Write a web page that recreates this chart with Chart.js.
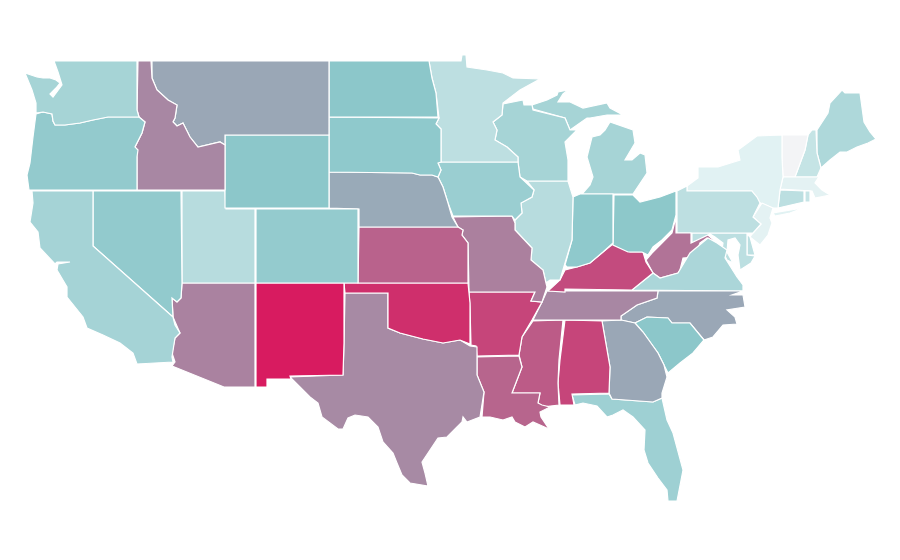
<!DOCTYPE html>
<html>
<head>
<meta charset="utf-8">
<script src="https://cdn.jsdelivr.net/npm/chart.js@4/dist/chart.umd.min.js"></script>
<style>
  html, body { margin: 0; padding: 0; background: #fff; }
  canvas { display: block; }
</style>
</head>
<body>
<canvas id="mapChart" width="900" height="560"></canvas>
<script>
// state outlines, in map units
const washington = [[54,61],[137,61],[137,110],[139,117],[108,117],[93,120],[80,123],[65,125],[55,125],[53,121],[52,114],[43,112],[36,113],[36,103],[32,90],[25,73],[37,77],[43,78],[50,78],[56,80],[60,83],[56,88],[50,94],[53,97],[62,85],[58,72]];
const oregon = [[36,114],[43,112],[52,114],[53,121],[55,125],[65,125],[80,123],[93,120],[108,117],[139,117],[145,122],[142,133],[135,147],[138,150],[137,157],[137,190],[29,190],[27,175],[30,163],[33,137]];
const california = [[32,191],[93,191],[93,246],[173,317],[175,325],[180,333],[175,338],[172,357],[173,362],[137,364],[133,353],[120,343],[103,335],[87,328],[83,317],[67,297],[67,287],[57,270],[58,264],[70,262],[57,262],[55,264],[40,248],[38,232],[30,222],[33,203]];
const nevada = [[93,191],[181,191],[182,283],[181,298],[177,302],[172,298],[173,317],[93,246]];
const idaho = [[138,61],[151,61],[152,78],[157,90],[168,100],[177,105],[175,118],[173,122],[177,126],[183,123],[190,137],[198,147],[220,142],[225,145],[225,190],[137,190],[137,157],[135,147],[142,133],[145,122],[139,117],[137,110]];
const montana = [[152,61],[329,61],[329,135],[225,135],[225,145],[220,142],[198,147],[190,137],[183,123],[177,126],[173,122],[175,118],[177,105],[168,100],[157,90],[152,78]];
const wyoming = [[225,135],[329,135],[329,208],[225,208]];
const utah = [[182,191],[225,191],[226,209],[255,209],[255,283],[182,283]];
const colorado = [[256,209],[358,209],[358,283],[256,283]];
const arizona = [[182,283],[255,283],[255,387],[224,387],[172,366],[175,362],[172,353],[175,338],[180,333],[173,317],[172,298],[177,302],[181,298]];
const newMexico = [[256,283],[344,283],[344,343],[343,375],[290,376],[291,379],[267,379],[267,387],[256,387]];
const northDakota = [[329,61],[429,61],[432,78],[436,93],[438,117],[329,117]];
const southDakota = [[329,117],[439,118],[436,124],[441,129],[441,162],[438,163],[441,170],[438,177],[432,175],[420,175],[412,173],[329,172]];
const nebraska = [[329,172],[412,173],[420,175],[432,175],[438,177],[443,187],[448,203],[452,217],[458,227],[359,227],[359,209],[329,208]];
const kansas = [[359,227],[458,227],[463,230],[462,235],[468,243],[468,283],[358,283]];
const oklahoma = [[344,283],[468,283],[470,303],[470,344],[460,340],[443,343],[423,339],[400,333],[388,328],[388,293],[345,293]];
const texas = [[345,293],[388,293],[388,328],[400,333],[423,339],[443,343],[460,340],[470,346],[477,347],[477,375],[484,392],[480,417],[467,422],[463,417],[462,422],[447,437],[438,438],[430,450],[422,462],[425,473],[428,486],[410,483],[402,475],[397,463],[393,453],[383,442],[378,427],[368,417],[355,415],[348,418],[343,429],[338,429],[322,417],[318,403],[310,397],[300,387],[290,377],[343,375],[344,343]];
const minnesota = [[429,61],[461,61],[462,55],[466,55],[467,67],[487,70],[503,73],[513,78],[540,79],[520,90],[503,103],[502,115],[493,122],[497,130],[495,140],[507,147],[518,157],[518,162],[441,162],[441,129],[436,124],[439,118],[436,93],[432,78]];
const iowa = [[441,162],[518,162],[520,177],[534,190],[532,197],[521,203],[522,213],[515,220],[512,216],[453,216],[448,203],[443,187],[438,177],[441,170],[438,163]];
const missouri = [[453,217],[512,216],[515,223],[515,230],[532,248],[531,260],[543,270],[546,283],[547,287],[542,302],[531,301],[535,292],[469,292],[468,243],[462,235],[463,230],[458,227]];
const arkansas = [[469,292],[535,292],[531,301],[542,302],[532,320],[522,337],[519,355],[477,356],[476,346],[471,345],[470,307]];
const louisiana = [[477,357],[519,356],[522,367],[512,393],[540,393],[538,403],[542,405],[550,407],[540,412],[541,417],[549,429],[533,422],[525,427],[515,422],[512,417],[503,420],[490,417],[482,417],[484,392],[477,375]];
const wisconsin = [[503,104],[523,100],[524,105],[532,105],[533,110],[565,118],[570,130],[577,130],[565,142],[568,160],[568,181],[527,181],[520,177],[518,162],[518,157],[507,147],[495,140],[497,130],[493,122],[502,115]];
const illinois = [[527,181],[568,181],[573,197],[572,240],[565,263],[560,280],[550,280],[546,283],[543,270],[531,260],[532,248],[515,230],[515,220],[522,213],[521,203],[532,197],[534,190]];
const indiana = [[573,197],[580,194],[613,194],[613,243],[603,252],[590,263],[577,267],[567,267],[565,265],[572,240]];
const ohio = [[614,195],[633,195],[640,202],[660,197],[676,191],[676,215],[672,230],[662,240],[653,247],[648,255],[642,252],[628,252],[613,245]];
const michiganLower = [[582,194],[590,185],[593,177],[587,157],[592,137],[600,135],[605,130],[610,122],[633,130],[635,143],[625,160],[632,160],[640,153],[645,155],[647,173],[633,194]];
const michiganUpper = [[533,109],[532,105],[547,100],[557,95],[558,92],[568,90],[563,94],[558,102],[570,102],[583,108],[607,103],[610,108],[623,115],[607,115],[590,118],[587,118],[570,130],[565,118]];
const kentucky = [[548,291],[560,280],[565,270],[577,267],[590,263],[603,252],[613,244],[630,252],[643,252],[646,262],[653,273],[632,290],[565,289],[565,292]];
const tennessee = [[547,291],[565,291],[658,291],[657,298],[637,305],[621,316],[621,320],[533,320],[542,302]];
const mississippi = [[533,321],[563,320],[559,360],[558,383],[559,405],[542,407],[538,403],[540,393],[512,393],[522,367],[519,355],[522,337]];
const alabama = [[565,320],[602,321],[610,367],[609,393],[572,394],[574,405],[560,405],[558,383],[560,360]];
const georgia = [[602,321],[621,320],[635,323],[643,332],[658,353],[664,365],[667,377],[662,393],[662,398],[653,402],[612,399],[609,393],[610,367]];
const southCarolina = [[635,323],[647,317],[668,318],[672,323],[690,323],[704,340],[693,353],[680,363],[668,373],[664,365],[658,353],[643,332]];
const northCarolina = [[658,291],[743,291],[732,295],[743,295],[745,307],[727,310],[735,317],[737,324],[723,325],[713,337],[704,340],[690,323],[672,323],[668,318],[647,317],[635,323],[621,320],[621,316],[637,305],[657,298]];
const florida = [[572,395],[609,394],[612,399],[653,402],[662,398],[667,420],[673,433],[683,470],[677,501],[668,501],[667,490],[658,478],[648,463],[644,450],[645,430],[633,417],[623,410],[613,415],[607,417],[597,406],[583,403],[575,405]];
const virginia = [[632,290],[653,273],[660,278],[678,273],[690,253],[708,238],[717,243],[727,250],[725,258],[737,277],[743,285],[743,291]];
const westVirginia = [[676,217],[676,233],[691,233],[691,243],[708,235],[717,243],[707,238],[700,243],[695,257],[683,258],[680,270],[678,273],[660,278],[653,273],[646,260],[652,253],[660,245],[672,233]];
const pennsylvania = [[677,191],[687,186],[687,191],[752,191],[757,197],[760,203],[753,217],[761,224],[753,233],[677,233]];
const maryland = [[692,233],[747,233],[747,255],[755,256],[751,263],[740,270],[738,255],[740,245],[735,238],[728,240],[727,252],[733,263],[727,260],[722,250],[723,243],[715,237],[710,234],[700,240],[692,243]];
const delaware = [[747,234],[750,237],[755,255],[747,255]];
const newJersey = [[762,203],[773,208],[770,218],[772,223],[768,235],[760,245],[750,237],[753,233],[761,224],[753,217]];
const newYork = [[687,186],[698,178],[698,167],[718,167],[740,160],[738,150],[757,136],[782,135],[782,157],[783,177],[780,190],[778,208],[773,208],[758,202],[752,191],[687,191]];
const longIsland = [[773,213],[803,208],[790,213],[775,216]];
const connecticut = [[780,190],[804,191],[804,202],[778,208]];
const rhodeIsland = [[805,191],[810,191],[810,202],[805,202]];
const massachusetts = [[783,177],[817,177],[820,175],[815,183],[822,190],[830,195],[815,198],[812,191],[780,189]];
const vermont = [[782,135],[808,135],[805,150],[795,177],[783,177],[782,157]];
const newHampshire = [[812,130],[816,130],[817,153],[821,168],[817,177],[795,177],[805,150],[808,135]];
const maine = [[817,130],[828,113],[830,103],[842,90],[845,93],[860,93],[864,122],[870,132],[876,139],[868,143],[857,147],[847,152],[840,152],[830,160],[821,168],[817,153]];

const stateOutlines = [washington, oregon, california, nevada, idaho, montana, wyoming, utah, colorado, arizona, newMexico,
    northDakota, southDakota, nebraska, kansas, oklahoma, texas, minnesota, iowa, missouri, arkansas, louisiana,
    wisconsin, illinois, indiana, ohio, michiganLower, michiganUpper, kentucky, tennessee, mississippi, alabama,
    georgia, southCarolina, northCarolina, florida, virginia, westVirginia, pennsylvania, maryland, delaware,
    newJersey, newYork, longIsland, connecticut, rhodeIsland, massachusetts, vermont, newHampshire, maine];

// same order as stateOutlines
const stateValues = [22.5, 28, 22.8, 28.3, 56, 43, 30, 17.6, 27.7, 58, 100,
    30, 29, 42, 71, 92, 55, 15.9, 26, 59, 83, 70,
    22.5, 17.6, 29, 29.7, 22.5, 22.5, 80.5, 56, 74, 83,
    43, 30, 43, 24.8, 21, 64, 15.9, 16, 16,
    4.5, 5.2, 5.2, 16, 13, 4.5, 0, 13.3, 20];

// colour ramp stops
const rampValues = [0, 5, 30, 100];
const rampColors = [[243, 244, 246], [226, 242, 243], [140, 199, 202], [216, 27, 96]];

function valueColor(value) {
    let i = 0;
    while (i < rampValues.length - 2 && value > rampValues[i + 1]) i++;
    const t = (value - rampValues[i]) / (rampValues[i + 1] - rampValues[i]);
    const rgb = rampColors[i].map((c, k) => Math.round(c + (rampColors[i + 1][k] - c) * t));
    return `rgb(${rgb[0]}, ${rgb[1]}, ${rgb[2]})`;
}

const datasets = stateOutlines.map((outline, index) => ({
    data: outline.concat([outline[0]]).map(p => ({ x: p[0], y: p[1] })),
    showLine: true,
    fill: 'shape',
    backgroundColor: valueColor(stateValues[index]),
    borderColor: '#ffffff',
    borderWidth: 1.2,
    tension: 0,
    pointRadius: 0,
    pointHoverRadius: 0
}));

new Chart(document.getElementById('mapChart'), {
    type: 'scatter',
    data: { datasets: datasets },
    options: {
        responsive: false,
        animation: false,
        layout: { padding: 0 },
        plugins: { legend: { display: false }, tooltip: { enabled: false } },
        scales: {
            x: { type: 'linear', display: false, min: 0, max: 900 },
            y: { type: 'linear', display: false, min: 0, max: 560, reverse: true }
        }
    }
});
</script>
</body>
</html>
